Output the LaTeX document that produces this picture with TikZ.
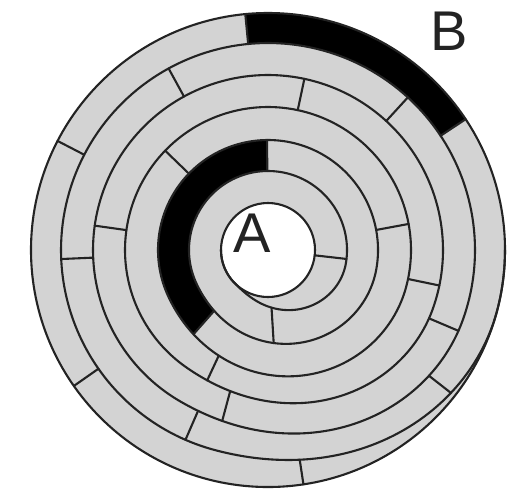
\documentclass[tikz,border=0pt]{standalone}
\usepackage{fontspec}
\setmainfont{Liberation Sans}
\definecolor{trk}{RGB}{211,211,211}
\definecolor{edgec}{RGB}{35,35,35}
\newcommand\Cx{268}
\newcommand\Cy{250}
% radius of a lower (transition) arc: a -> b between angles t1 and t2
\newcommand\Lrad[5]{(#1+(#2-#1)*sm(((#5)-(#3))/((#4)-(#3))))}
\newcommand\SpA[1]{\Lrad{47}{79}{225}{350}{#1}}
\newcommand\SpB[1]{\Lrad{79}{110}{205}{350}{#1}}
\newcommand\SpC[1]{\Lrad{110}{143}{205}{345}{#1}}
\newcommand\SpD[1]{\Lrad{143}{175}{235}{340}{#1}}
\newcommand\SpE[1]{\Lrad{175}{207}{240}{340}{#1}}
\newcommand\SpF[1]{\Lrad{207}{237}{255}{345}{#1}}
\newcommand\lowline[1]{\draw[ln] plot[domain=180:360,samples=120,variable=\t] ({\Cx+#1{\t}*cos(\t)},{\Cy-#1{\t}*sin(\t)});}
\newcommand\upline[1]{\draw[ln] plot[domain=0:180,samples=100,variable=\t] ({\Cx+#1*cos(\t)},{\Cy-#1*sin(\t)});}
\newcommand\radial[3]{\draw[ln] ({\Cx+(#2)*cos(#1)},{\Cy-(#2)*sin(#1)}) -- ({\Cx+(#3)*cos(#1)},{\Cy-(#3)*sin(#1)});}
\begin{document}
\begin{tikzpicture}[x=1pt,y=-1pt,
  declare function={cl(\x)=min(max(\x,0),1); sm(\x)=cl(\x)*cl(\x)*(3-2*cl(\x));},
  ln/.style={line width=2.1pt, draw=edgec, line join=round, line cap=round},
  lbl/.style={font=\fontsize{56}{56}\selectfont, inner sep=0pt, text=edgec}]
\useasboundingbox (0,0) rectangle (516,491);
% disk and hole
\fill[trk] (\Cx,\Cy) circle[radius=237];
\fill[white] (\Cx,\Cy) circle[radius=47];
% black sectors
\fill[black] plot[domain=33.5:95.5,samples=60,variable=\t] ({\Cx+237*cos(\t)},{\Cy-237*sin(\t)})
  -- plot[domain=95.5:33.5,samples=60,variable=\t] ({\Cx+207*cos(\t)},{\Cy-207*sin(\t)}) -- cycle;
\fill[black] plot[domain=90.5:228.5,samples=90,variable=\t] ({\Cx+\SpC{\t}*cos(\t)},{\Cy-\SpC{\t}*sin(\t)})
  -- plot[domain=228.5:90.5,samples=90,variable=\t] ({\Cx+\SpB{\t}*cos(\t)},{\Cy-\SpB{\t}*sin(\t)}) -- cycle;
% circles
\draw[ln] (\Cx,\Cy) circle[radius=237];
\draw[ln] (\Cx,\Cy) circle[radius=47];
% upper half tracks
\upline{79}\upline{110}\upline{143}\upline{175}\upline{207}
% lower half transitions (spiral)
\lowline{\SpA}\lowline{\SpB}\lowline{\SpC}\lowline{\SpD}\lowline{\SpE}\lowline{\SpF}
% sector boundaries, upper half
\radial{33.5}{207}{237}
\radial{95.5}{207}{237}
\radial{152.6}{207}{237}
\radial{47.5}{175}{207}
\radial{118.7}{175}{207}
\radial{78}{143}{175}
\radial{172}{143}{175}
\radial{10.5}{110}{143}
\radial{136}{110}{143}
\radial{90.5}{79}{110}
% sector boundaries, lower half
\radial{215}{\SpF{215}}{237}
\radial{278.6}{\SpF{278.6}}{237}
\radial{182.5}{\SpE{182.5}}{\SpF{182.5}}
\radial{246.5}{\SpE{246.5}}{\SpF{246.5}}
\radial{322}{\SpE{322}}{\SpF{322}}
\radial{255}{\SpD{255}}{\SpE{255}}
\radial{337}{\SpD{337}}{\SpE{337}}
\radial{245}{\SpC{245}}{\SpD{245}}
\radial{348.3}{\SpC{348.3}}{\SpD{348.3}}
\radial{228.5}{\SpB{228.5}}{\SpC{228.5}}
\radial{273.5}{\SpA{273.5}}{\SpB{273.5}}
\radial{353.5}{47}{\SpA{353.5}}
% labels
\node[lbl] (A) at (252,233) {A};
\node[lbl] (B) at (449,31) {B};
\end{tikzpicture}
\end{document}
